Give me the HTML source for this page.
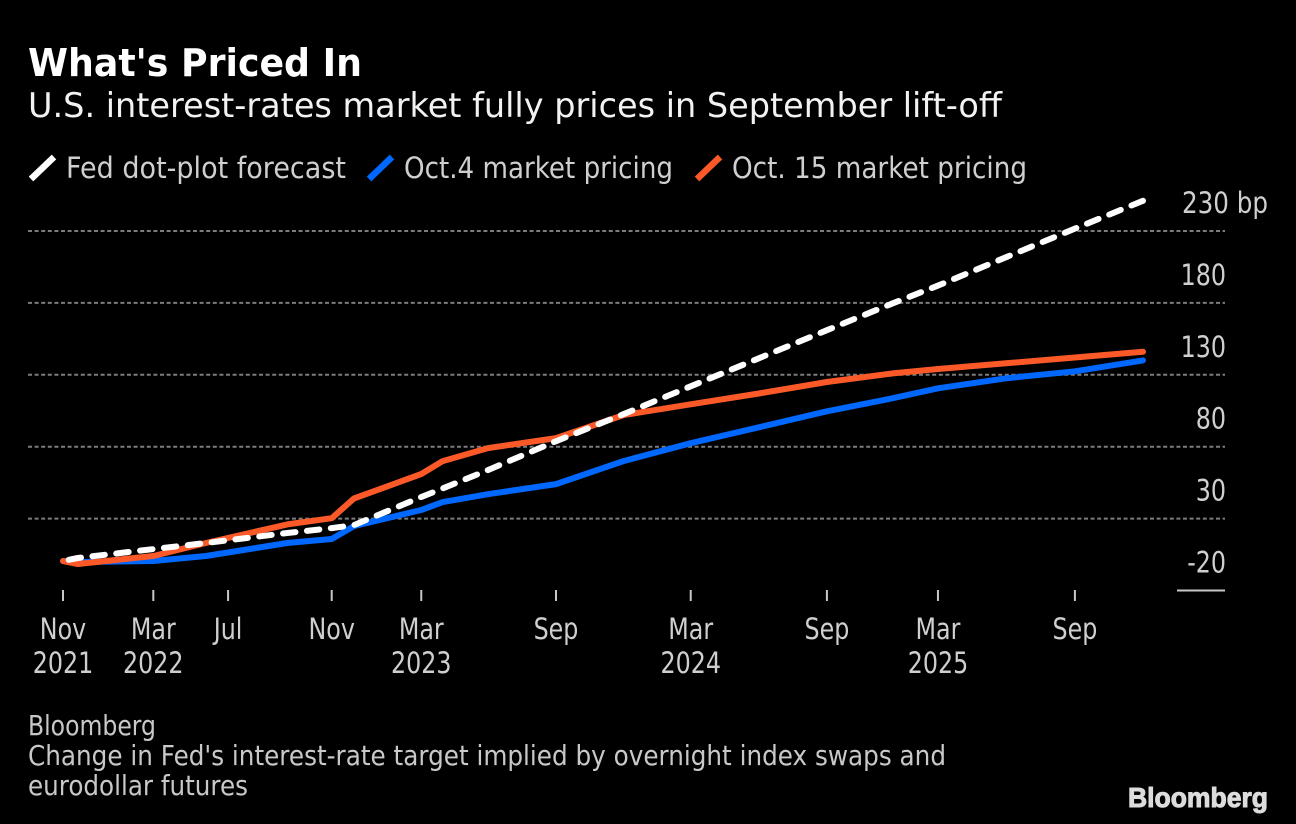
<!DOCTYPE html>
<html lang="en">
<head>
<meta charset="utf-8">
<title>What's Priced In</title>
<style>
html,body{margin:0;padding:0;background:#000;}
svg{display:block;}
text{font-family:"DejaVu Sans","Liberation Sans",sans-serif;}
.sub{font-size:34px;fill:#f2f2f2;}
.leg{font-size:29px;fill:#cfcfcf;}
.tick{font-size:29px;fill:#cfcfcf;}
.foot{font-size:28px;fill:#c8c8c8;}
</style>
</head>
<body>
<svg id="chart" xmlns="http://www.w3.org/2000/svg" width="1296" height="824" viewBox="0 0 1296 824">
  <rect x="0" y="0" width="1296" height="824" fill="#000"/>
  <text x="28" y="76" font-size="38" font-weight="700" fill="#fff" textLength="334" lengthAdjust="spacingAndGlyphs">What's Priced In</text>
  <text class="sub" x="28" y="117" textLength="974" lengthAdjust="spacingAndGlyphs">U.S. interest-rates market fully prices in September lift-off</text>

  <line x1="31" y1="179" x2="54" y2="157" stroke="#fff" stroke-width="6.5"/>
  <text class="leg" x="66" y="178" textLength="280" lengthAdjust="spacingAndGlyphs">Fed dot-plot forecast</text>
  <line x1="369" y1="179" x2="392" y2="157" stroke="#0068ff" stroke-width="6.5"/>
  <text class="leg" x="404" y="178" textLength="269" lengthAdjust="spacingAndGlyphs">Oct.4 market pricing</text>
  <line x1="697" y1="179" x2="720" y2="157" stroke="#fb5a28" stroke-width="6.5"/>
  <text class="leg" x="732" y="178" textLength="295" lengthAdjust="spacingAndGlyphs">Oct. 15 market pricing</text>

  <g id="grid"></g>
  <g id="yticks"></g>
  <g id="xticks"></g>
  <g id="series"></g>

  <text class="foot" x="28" y="735" textLength="128" lengthAdjust="spacingAndGlyphs">Bloomberg</text>
  <text class="foot" x="28" y="765" textLength="918" lengthAdjust="spacingAndGlyphs">Change in Fed's interest-rate target implied by overnight index swaps and</text>
  <text class="foot" x="28" y="795" textLength="220" lengthAdjust="spacingAndGlyphs">eurodollar futures</text>
  <text x="1128" y="807" font-size="28" font-weight="700" fill="#dcdcdc" style="font-family:'Liberation Sans',sans-serif" textLength="140" lengthAdjust="spacingAndGlyphs" stroke="#dcdcdc" stroke-width="1">Bloomberg</text>
</svg>
<script>
const meetingDates = ["2021-11-03","2021-11-23","2022-03-05","2022-05-15","2022-09-02","2022-11-01","2022-12-01","2023-03-02","2023-03-31","2023-05-31","2023-08-31","2023-11-30","2024-02-29","2024-05-31","2024-08-31","2024-11-28","2025-01-28","2025-04-30","2025-08-01","2025-11-01"];
const fedDotPlot = [0.5,2.6,8.8,13,20,23.4,25.5,45,51,63.7,83.8,102.6,122,141.5,161,179.7,192,211.8,231.7,251];
const oct4Pricing = [0.5,-0.2,0.5,4,13,15.8,24.8,36,41.5,47,54,70,82.4,93.5,104.6,113.7,120.6,127.6,132.4,140];
const oct15Pricing = [0.5,-1.6,4,13,26,30.3,44,61,70,79,86,102,109.5,117,125,131,134,138,142,146];
const yTickValues = [230,180,130,80,30,-20];
const xTickDates = ["2021-11-03","2022-03-05","2022-06-14","2022-11-01","2023-03-02","2023-08-31","2024-02-29","2024-08-31","2025-01-28","2025-08-01"];
const xTickMonths = ["Nov","Mar","Jul","Nov","Mar","Sep","Mar","Sep","Mar","Sep"];
const xTickYears = ["2021","2022","","","2023","","2024","","2025",""];

const NS = "http://www.w3.org/2000/svg";
const t0 = Date.UTC(2021,10,3), t1 = Date.UTC(2025,10,1);
function xPos(d){ return 63 + (Date.parse(d + "T00:00:00Z") - t0) / (t1 - t0) * 1080; }
function yPos(v){ return 590.5 - (v + 20) * 1.438; }

const grid = document.getElementById("grid");
const yticks = document.getElementById("yticks");
yTickValues.forEach(function(v){
  const y = yPos(v);
  const line = document.createElementNS(NS,"line");
  
  
  line.setAttribute("y1", y);
  line.setAttribute("y2", y);
  line.setAttribute("x2", 1225);
  if (v === -20) {
    line.setAttribute("x1", 1177);
    line.setAttribute("stroke", "#c8c8c8");
    line.setAttribute("stroke-width", "2");
  } else {
    line.setAttribute("x1", 28);
    line.setAttribute("stroke", "#7c7c7c");
    line.setAttribute("stroke-width", "2");
    line.setAttribute("stroke-dasharray", "4 2.6");
  }
  grid.appendChild(line);

  const label = document.createElementNS(NS,"text");
  
  
  label.setAttribute("class","tick");
  label.setAttribute("y", y - 18);
  if (v === 230) {
    label.setAttribute("x", 1182);
    label.setAttribute("textLength", 86);
    label.textContent = v + " bp";
  } else {
    label.setAttribute("x", 1226);
    label.setAttribute("text-anchor","end");
    label.setAttribute("data-cond","1");
    label.textContent = v < 0 ? "-" + Math.abs(v) : String(v);
  }
  label.setAttribute("lengthAdjust","spacingAndGlyphs");
  yticks.appendChild(label);
});

const xticks = document.getElementById("xticks");
xTickDates.forEach(function(d,i){
  const x = xPos(d);
  const tick = document.createElementNS(NS,"line");
  
  
  tick.setAttribute("x1", x);
  tick.setAttribute("x2", x);
  tick.setAttribute("y1", 590);
  tick.setAttribute("y2", 601);
  tick.setAttribute("stroke", "#c8c8c8");
  tick.setAttribute("stroke-width", "2");
  xticks.appendChild(tick);

  const month = document.createElementNS(NS,"text");
  
  
  month.setAttribute("class","tick");
  month.setAttribute("x", x);
  month.setAttribute("y", 639);
  month.setAttribute("text-anchor","middle");
  month.setAttribute("data-cond","1");
  month.textContent = xTickMonths[i];
  xticks.appendChild(month);

  if (xTickYears[i]) {
    const year = document.createElementNS(NS,"text");
    
    
    year.setAttribute("class","tick");
    year.setAttribute("x", x);
    year.setAttribute("y", 673);
    year.setAttribute("text-anchor","middle");
    year.setAttribute("data-cond","1");
    year.textContent = xTickYears[i];
    xticks.appendChild(year);
  }
});

function pathFor(values){
  return values.map(function(v,i){
    return (i ? "L" : "M") + xPos(meetingDates[i]).toFixed(1) + " " + yPos(v).toFixed(1);
  }).join(" ");
}
const series = document.getElementById("series");

const blueLine = document.createElementNS(NS,"path");


blueLine.setAttribute("d", pathFor(oct4Pricing));
blueLine.setAttribute("fill","none");
blueLine.setAttribute("stroke","#0068ff");
blueLine.setAttribute("stroke-width","6");
blueLine.setAttribute("stroke-linecap","round");
blueLine.setAttribute("stroke-linejoin","round");
series.appendChild(blueLine);

const orangeLine = document.createElementNS(NS,"path");


orangeLine.setAttribute("d", pathFor(oct15Pricing));
orangeLine.setAttribute("fill","none");
orangeLine.setAttribute("stroke","#fb5a28");
orangeLine.setAttribute("stroke-width","6");
orangeLine.setAttribute("stroke-linecap","round");
orangeLine.setAttribute("stroke-linejoin","round");
series.appendChild(orangeLine);

const fedLine = document.createElementNS(NS,"path");


fedLine.setAttribute("d", pathFor(fedDotPlot));
fedLine.setAttribute("fill","none");
fedLine.setAttribute("stroke","#ffffff");
fedLine.setAttribute("stroke-width","6");
fedLine.setAttribute("stroke-linecap","round");
fedLine.setAttribute("stroke-linejoin","round");
const dashOn = 12.5, dashGap = 11.5;
fedLine.setAttribute("stroke-dasharray", dashOn + " " + dashGap);
series.appendChild(fedLine);
const fedPhase = (fedLine.getTotalLength() - dashOn) % (dashOn + dashGap);
fedLine.setAttribute("stroke-dashoffset", (-fedPhase).toFixed(2));

document.querySelectorAll('text[data-cond]').forEach(function(t){
  const len = t.getComputedTextLength();
  t.setAttribute("textLength", (len * 0.82).toFixed(1));
  t.setAttribute("lengthAdjust","spacingAndGlyphs");
});
</script>
</body>
</html>
